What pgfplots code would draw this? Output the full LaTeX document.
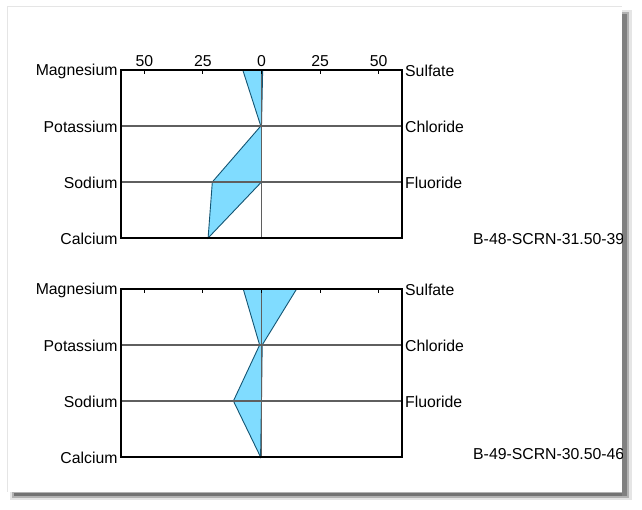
\documentclass[border=0pt]{standalone}
\usepackage{pgfplots}
\pgfplotsset{compat=1.18}
\usepackage{fontspec}
\setmainfont{Liberation Sans}
\definecolor{stifffill}{RGB}{128,220,255}
\definecolor{stiffedge}{RGB}{20,85,115}
\definecolor{gridgray}{RGB}{95,95,95}

\pgfplotsset{
  stiff/.style={
    scale only axis,
    width=281pt, height=168pt,
    anchor=south west,
    xmin=-60, xmax=60, ymin=0, ymax=3,
    xtick={-50,-25,0,25,50},
    xtick pos=right, xticklabel pos=right,
    tick align=inside,
    major tick length=4pt,
    ytick={0,1,2,3},
    yticklabels={Calcium,Sodium,Potassium,Magnesium},
    ytick style={draw=none},
    ymajorgrids=true,
    major grid style={gridgray, line width=1.2pt},
    axis line style={black, line width=1.3pt},
    tick style={black, line width=1pt},
    ticklabel style={font=\fontsize{15.8}{18}\selectfont},
    yticklabel style={yshift=-1pt},
    /pgf/number format/assume math mode=true,
    axis on top=true,
    clip=false,
  },
  anionlabels/.style={
    after end axis/.code={
      \node[anchor=west, font=\fontsize{15.8}{18}\selectfont, inner sep=0pt, yshift=-1pt] at (rel axis cs:1,1) {\hspace{3pt}Sulfate};
      \node[anchor=west, font=\fontsize{15.8}{18}\selectfont, inner sep=0pt, yshift=-1pt] at (axis cs:60,2) {\hspace{3pt}Chloride};
      \node[anchor=west, font=\fontsize{15.8}{18}\selectfont, inner sep=0pt, yshift=-1pt] at (axis cs:60,1) {\hspace{3pt}Fluoride};
    },
  },
}

\begin{document}
\begin{tikzpicture}[x=1pt, y=1pt]
\path[use as bounding box] (0,0) rectangle (642,510);

% panel with drop shadow
\fill[black!10] (10,10) rectangle (632,20);
\fill[black!10] (622,10) rectangle (632,500);
\fill[black!30] (12,12) rectangle (629,18);
\fill[black!30] (622,12) rectangle (629,498);
\fill[black!55] (14,14) rectangle (627,17);
\fill[black!50] (622,14) rectangle (627,496);
\fill[white] (7,18) rectangle (622,503);
\draw[black!10, line width=1pt] (7,18) -- (7,503) -- (622,503);

% upper diagram
\begin{axis}[stiff, anionlabels, at={(121pt,272pt)},
    xticklabels={50,25,0,25,50}]
\addplot[fill=stifffill, draw=stiffedge, line width=0.9pt] coordinates {
  (-8,3) (-0.3,2) (-21,1) (-22.8,0) (0,1) (0,2) (0.5,3)
} -- cycle;
\draw[gridgray, line width=1.2pt] (axis cs:0,0) -- (axis cs:0,3);
\draw[black, line width=1.3pt] (axis cs:-60,0) rectangle (axis cs:60,3);
\end{axis}

% lower diagram
\begin{axis}[stiff, anionlabels, at={(121pt,53pt)},
    xticklabels={}]
\addplot[fill=stifffill, draw=stiffedge, line width=0.9pt] coordinates {
  (-7.8,3) (-0.8,2) (-12,1) (-0.4,0) (0,1) (0.3,2) (15,3)
} -- cycle;
\draw[gridgray, line width=1.2pt] (axis cs:0,0) -- (axis cs:0,3);
\draw[black, line width=1.3pt] (axis cs:-60,0) rectangle (axis cs:60,3);
\end{axis}

% sample names, cut off at the panel edge
\begin{scope}
\clip (7,18) rectangle (622,503);
\node[anchor=west, inner sep=0pt, font=\fontsize{15.8}{18}\selectfont] at (473,271) {B-48-SCRN-31.50-39.50};
\node[anchor=west, inner sep=0pt, font=\fontsize{15.8}{18}\selectfont] at (473,56) {B-49-SCRN-30.50-46.50};
\end{scope}
\end{tikzpicture}
\end{document}
